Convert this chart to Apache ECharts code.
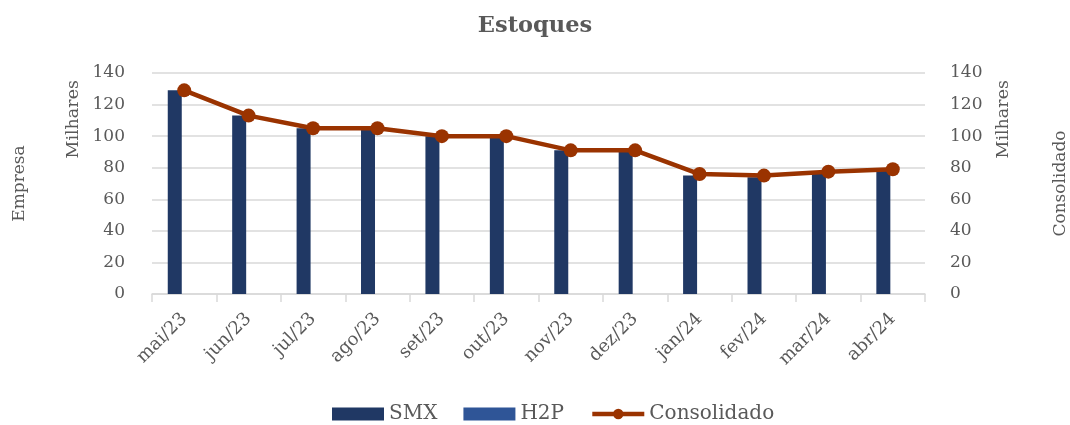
<!DOCTYPE html>
<html>
<head>
<meta charset="utf-8">
<script src="https://cdn.jsdelivr.net/npm/echarts@6/dist/echarts.min.js"></script>
<style>
  html, body { margin: 0; padding: 0; background: #fff; }
  #chart { width: 1070px; height: 425px; }
</style>
</head>
<body>
<div id="chart"></div>
<script>
var months = ['mai/23', 'jun/23', 'jul/23', 'ago/23', 'set/23', 'out/23', 'nov/23', 'dez/23', 'jan/24', 'fev/24', 'mar/24', 'abr/24'];
var smx = [129, 113, 105, 104, 100, 100, 91, 91, 75, 74, 77, 79];
var h2p = [0, 0, 0, 0, 0, 0, 0, 0, 0, 0, 0, 0];
var consolidado = [129, 113, 105, 105, 100, 100, 91, 91, 76, 75, 77.5, 79];

var serif = '"DejaVu Serif", "Liberation Serif", serif';
var grey = '#595959';
var brown = '#9A3300';

var myChart = echarts.init(document.getElementById('chart'));
myChart.setOption({
    animation: false,
    textStyle: { fontFamily: serif },
    title: {
        text: 'Estoques',
        left: 'center',
        top: 10,
        textStyle: { color: grey, fontFamily: serif, fontSize: 22.5, fontWeight: 'bold' }
    },
    legend: {
        top: 399,
        left: 327,
        itemWidth: 52,
        itemHeight: 13,
        itemGap: 26,
        textStyle: { color: grey, fontFamily: serif, fontSize: 20 },
        data: [
            { name: 'SMX', icon: 'rect' },
            { name: 'H2P', icon: 'rect' },
            { name: 'Consolidado', lineStyle: { width: 4.5 } }
        ]
    },
    grid: { left: 152, right: 145, top: 73, bottom: 131, outerBoundsMode: 'none' },
    graphic: [
        {
            type: 'text', left: 64, top: 80, rotation: Math.PI / 2,
            style: { text: 'Milhares', fill: grey, font: '17.5px ' + serif }
        },
        {
            type: 'text', left: 994, top: 80, rotation: Math.PI / 2,
            style: { text: 'Milhares', fill: grey, font: '17.5px ' + serif }
        }
    ],
    xAxis: {
        type: 'category',
        data: months,
        axisLine: { lineStyle: { color: '#D9D9D9', width: 1.5 } },
        axisTick: { show: true, length: 8, lineStyle: { color: '#D9D9D9', width: 1.5 } },
        axisLabel: { color: grey, fontSize: 18, rotate: 45, margin: 22, fontFamily: serif }
    },
    yAxis: [
        {
            type: 'value', min: 0, max: 140, interval: 20,
            name: 'Empresa', nameLocation: 'middle', nameGap: 124,
            nameTextStyle: { color: grey, fontSize: 17, fontFamily: serif },
            axisLine: { show: false }, axisTick: { show: false },
            axisLabel: { color: grey, fontSize: 17, margin: 27, fontFamily: serif },
            splitLine: { lineStyle: { color: '#D9D9D9', width: 1.5 } }
        },
        {
            type: 'value', min: 0, max: 140, interval: 20,
            name: 'Consolidado', nameLocation: 'middle', nameGap: 127,
            nameTextStyle: { color: grey, fontSize: 17, fontFamily: serif },
            axisLine: { show: false }, axisTick: { show: false },
            axisLabel: { color: grey, fontSize: 17, margin: 25, fontFamily: serif },
            splitLine: { show: false }
        }
    ],
    series: [
        {
            name: 'SMX', type: 'bar', data: smx, barWidth: 14, barGap: '35%',
            itemStyle: { color: '#203864' }
        },
        {
            name: 'H2P', type: 'bar', data: h2p, barWidth: 14,
            itemStyle: { color: '#2F5597' }
        },
        {
            name: 'Consolidado', type: 'line', yAxisIndex: 1, data: consolidado,
            symbol: 'circle', symbolSize: 14,
            lineStyle: { color: brown, width: 4.5 },
            itemStyle: { color: brown }
        }
    ]
});
</script>
</body>
</html>
